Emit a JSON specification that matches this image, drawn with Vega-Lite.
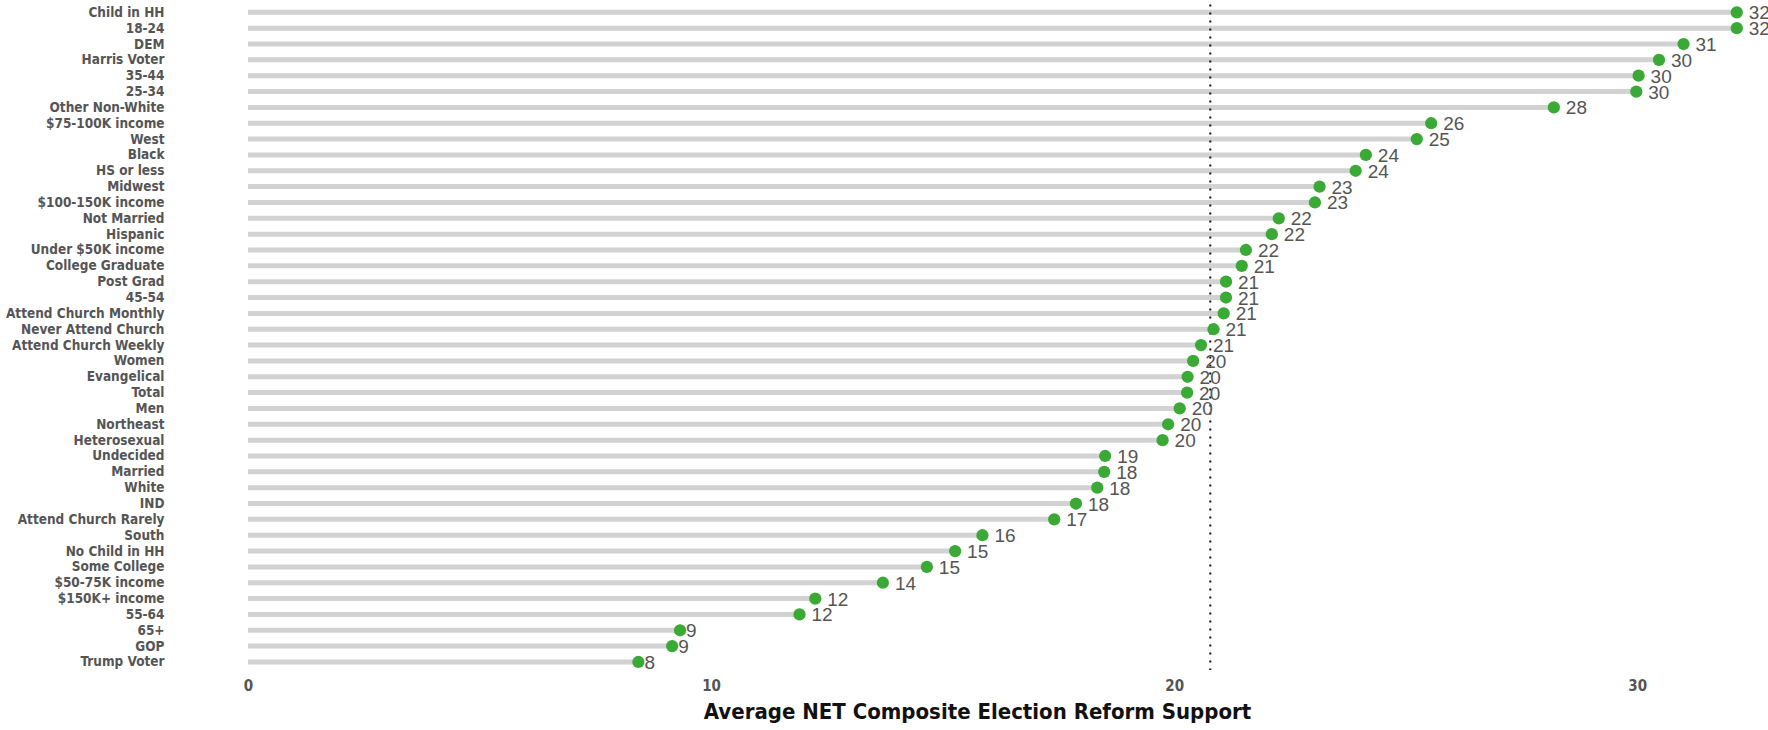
{
  "$schema": "https://vega.github.io/schema/vega-lite/v6.json",
  "width": 1505,
  "height": 665.5,
  "autosize": {"type": "none"},
  "padding": {"left": 248, "top": 4.4, "right": 15, "bottom": 60},
  "background": "white",
  "config": {"view": {"stroke": null}},
  "datasets": {
    "groups": [
      {"group": "Child in HH", "value": 32.15},
      {"group": "18-24", "value": 32.15},
      {"group": "DEM", "value": 31.0},
      {"group": "Harris Voter", "value": 30.47},
      {"group": "35-44", "value": 30.03},
      {"group": "25-34", "value": 29.98},
      {"group": "Other Non-White", "value": 28.2},
      {"group": "$75-100K income", "value": 25.55},
      {"group": "West", "value": 25.24},
      {"group": "Black", "value": 24.14},
      {"group": "HS or less", "value": 23.92},
      {"group": "Midwest", "value": 23.14},
      {"group": "$100-150K income", "value": 23.04},
      {"group": "Not Married", "value": 22.26},
      {"group": "Hispanic", "value": 22.11},
      {"group": "Under $50K income", "value": 21.55},
      {"group": "College Graduate", "value": 21.46},
      {"group": "Post Grad", "value": 21.12},
      {"group": "45-54", "value": 21.12},
      {"group": "Attend Church Monthly", "value": 21.07},
      {"group": "Never Attend Church", "value": 20.85},
      {"group": "Attend Church Weekly", "value": 20.58},
      {"group": "Women", "value": 20.41},
      {"group": "Evangelical", "value": 20.29},
      {"group": "Total", "value": 20.28},
      {"group": "Men", "value": 20.12},
      {"group": "Northeast", "value": 19.87},
      {"group": "Heterosexual", "value": 19.75},
      {"group": "Undecided", "value": 18.51},
      {"group": "Married", "value": 18.49},
      {"group": "White", "value": 18.34},
      {"group": "IND", "value": 17.88},
      {"group": "Attend Church Rarely", "value": 17.41},
      {"group": "South", "value": 15.86},
      {"group": "No Child in HH", "value": 15.27},
      {"group": "Some College", "value": 14.66},
      {"group": "$50-75K income", "value": 13.71},
      {"group": "$150K+ income", "value": 12.25},
      {"group": "55-64", "value": 11.91},
      {"group": "65+", "value": 9.33},
      {"group": "GOP", "value": 9.16},
      {"group": "Trump Voter", "value": 8.43}
    ],
    "reference": [{"mean": 20.78}]
  },
  "layer": [
    {
      "data": {"name": "groups"},
      "mark": {"type": "rule", "stroke": "#d2d2d2", "strokeWidth": 5},
      "encoding": {
        "y": {
          "field": "group",
          "type": "nominal",
          "sort": null,
          "scale": {"type": "point", "padding": 0.5},
          "axis": {
            "title": null,
            "ticks": false,
            "domain": false,
            "grid": false,
            "labelPadding": 84,
            "labelFont": "DejaVu Sans Condensed",
            "labelFontWeight": "bold",
            "labelFontSize": 13.5,
            "labelColor": "#555555"
          }
        },
        "x": {
          "field": "value",
          "type": "quantitative",
          "scale": {"domain": [0, 32.5], "nice": false, "zero": true},
          "axis": {
            "title": "Average NET Composite Election Reform Support",
            "titleFont": "DejaVu Sans Condensed",
            "titleFontWeight": "bold",
            "titleFontSize": 22,
            "titleColor": "#111111",
            "titlePadding": 8,
            "titleX": 729,
            "values": [0, 10, 20, 30],
            "ticks": false,
            "domain": false,
            "grid": false,
            "labelFlush": false,
            "labelPadding": 9,
            "labelFont": "DejaVu Sans Condensed",
            "labelFontWeight": "bold",
            "labelFontSize": 15,
            "labelColor": "#555555"
          }
        },
        "x2": {"datum": 0}
      }
    },
    {
      "data": {"name": "reference"},
      "mark": {"type": "rule", "stroke": "#111111", "strokeWidth": 2, "strokeDash": [2, 6]},
      "encoding": {"x": {"field": "mean", "type": "quantitative"}}
    },
    {
      "data": {"name": "groups"},
      "mark": {"type": "circle", "color": "#3aa935", "opacity": 1, "size": 150},
      "encoding": {
        "x": {"field": "value", "type": "quantitative"},
        "y": {"field": "group", "type": "nominal", "sort": null}
      }
    },
    {
      "data": {"name": "groups"},
      "transform": [{"filter": "datum.value >= 9.5"}],
      "mark": {"type": "text", "align": "left", "baseline": "middle", "dx": 12, "dy": 1, "font": "Liberation Sans", "fontSize": 19, "color": "#555555"},
      "encoding": {
        "x": {"field": "value", "type": "quantitative"},
        "y": {"field": "group", "type": "nominal", "sort": null},
        "text": {"field": "value", "type": "quantitative", "format": ".0f"}
      }
    },
    {
      "data": {"name": "groups"},
      "transform": [{"filter": "datum.value < 9.5"}],
      "mark": {"type": "text", "align": "left", "baseline": "middle", "dx": 6, "dy": 1, "font": "Liberation Sans", "fontSize": 19, "color": "#555555"},
      "encoding": {
        "x": {"field": "value", "type": "quantitative"},
        "y": {"field": "group", "type": "nominal", "sort": null},
        "text": {"field": "value", "type": "quantitative", "format": ".0f"}
      }
    }
  ]
}
